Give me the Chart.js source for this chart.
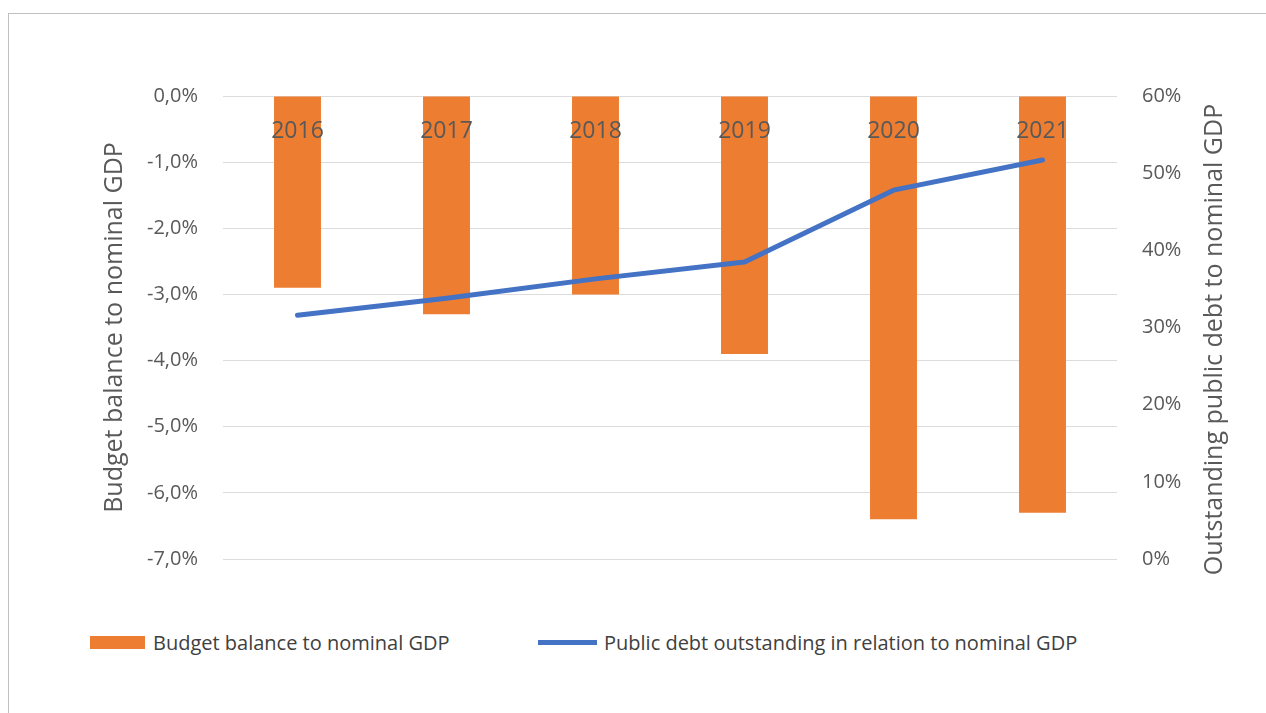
<!DOCTYPE html>
<html>
<head>
<meta charset="utf-8">
<title>Budget balance and public debt</title>
<script src="https://cdn.jsdelivr.net/npm/chart.js@4.4.1/dist/chart.umd.min.js"></script>
<style>
  html, body { margin: 0; padding: 0; background: #fff; overflow: hidden; }
  #frame { position: absolute; left: 8px; top: 13px; width: 1270px; height: 720px; border: 1px solid #c0c0c0; }
  #chart-wrap { position: absolute; left: 0; top: 0; width: 1258px; height: 590px; }
  .legend-item { position: absolute; top: 613px; height: 30px; display: flex; align-items: center;
    font: 20px "Open Sans", sans-serif; color: #404040; white-space: nowrap; }
  .legend-swatch { flex: none; }
</style>
</head>
<body>
<div id="frame">
  <div id="chart-wrap"><canvas id="balance-debt"></canvas></div>
  <div id="legend"></div>
</div>
<script>
// ==========================
// DATA
// ==========================
const years = ["2016", "2017", "2018", "2019", "2020", "2021"];
const budgetBalance = [-2.9, -3.3, -3.0, -3.9, -6.4, -6.3]; // % of nominal GDP
const publicDebt = [31.6, 33.8, 36.3, 38.5, 47.8, 51.7]; // % of nominal GDP
const balanceTickLabels = ["0,0%", "-1,0%", "-2,0%", "-3,0%", "-4,0%", "-5,0%", "-6,0%", "-7,0%"];
const debtTickLabels = ["0%", "10%", "20%", "30%", "40%", "50%", "60%"];

const ORANGE = "#ED7D31";
const BLUE = "#4472C4";
const GREY_TEXT = "#595959";
const FONT = '"Open Sans", sans-serif';

// ==========================
// PLUGINS
// ==========================

// Year labels sit just under the zero line, over the bars
const yearLabels = {
  id: "yearLabels",
  afterDatasetsDraw(chart) {
    const { ctx } = chart;
    const xScale = chart.scales.x;
    const y = chart.scales.y.getPixelForValue(0) + 35;
    ctx.save();
    ctx.font = "23px " + FONT;
    ctx.fillStyle = GREY_TEXT;
    ctx.textAlign = "center";
    ctx.textBaseline = "middle";
    years.forEach((year, i) => {
      ctx.fillText(year, xScale.getPixelForValue(i), y);
    });
    ctx.restore();
  },
};

// Both axis titles read bottom to top
const axisTitles = {
  id: "axisTitles",
  afterDraw(chart) {
    const { ctx, chartArea } = chart;
    const midY = (chartArea.top + chartArea.bottom) / 2;
    const drawRotated = (text, x, y) => {
      ctx.save();
      ctx.translate(x, y);
      ctx.rotate(-Math.PI / 2);
      ctx.fillText(text, 0, 0);
      ctx.restore();
    };
    ctx.save();
    ctx.font = "25px " + FONT;
    ctx.fillStyle = GREY_TEXT;
    ctx.textAlign = "center";
    ctx.textBaseline = "middle";
    drawRotated("Budget balance to nominal GDP", chartArea.left - 108, midY);
    drawRotated("Outstanding public debt to nominal GDP", chartArea.right + 98, midY + 12);
    ctx.restore();
  },
};

// ==========================
// CHART
// ==========================
const chart = new Chart(document.getElementById("balance-debt"), {
  data: {
    labels: years,
    datasets: [
      {
        type: "line",
        label: "Public debt outstanding in relation to nominal GDP",
        data: publicDebt,
        yAxisID: "y2",
        borderColor: BLUE,
        backgroundColor: BLUE,
        borderWidth: 5,
        borderCapStyle: "round",
        borderJoinStyle: "round",
        pointRadius: 0,
        tension: 0,
        order: 0,
      },
      {
        type: "bar",
        label: "Budget balance to nominal GDP",
        data: budgetBalance,
        yAxisID: "y",
        backgroundColor: ORANGE,
        barPercentage: 0.315,
        categoryPercentage: 1,
        order: 1,
      },
    ],
  },
  options: {
    responsive: true,
    maintainAspectRatio: false,
    animation: false,
    devicePixelRatio: 1,
    layout: { padding: { top: 82, bottom: 45, left: 0, right: 0 } },
    plugins: {
      legend: { display: false },
      tooltip: { enabled: false },
    },
    scales: {
      x: { display: false },
      y: {
        position: "left",
        min: -7,
        max: 0,
        ticks: {
          stepSize: 1,
          padding: 25,
          color: GREY_TEXT,
          font: { family: FONT, size: 20 },
          callback: (value) => balanceTickLabels[Math.round(-value)],
        },
        grid: { color: "#dcdcdc", lineWidth: 1, drawTicks: false },
        border: { display: false },
        afterFit: (scale) => { scale.width = 214; },
      },
      y2: {
        position: "right",
        min: 0,
        max: 60,
        ticks: {
          stepSize: 10,
          padding: 25,
          color: GREY_TEXT,
          font: { family: FONT, size: 20 },
          callback: (value) => debtTickLabels[Math.round(value / 10)],
        },
        grid: { display: false, drawTicks: false },
        border: { display: false },
        afterFit: (scale) => { scale.width = 150; },
      },
    },
  },
  plugins: [yearLabels, axisTitles],
});

// ==========================
// LEGEND (built from the datasets)
// ==========================
function buildLegend() {
  const legend = document.getElementById("legend");
  const bar = chart.data.datasets[1];
  const line = chart.data.datasets[0];
  const items = [
    { ds: bar, left: 81, w: 55, h: 13, gap: 8 },
    { ds: line, left: 529, w: 59, h: 5, gap: 7 },
  ];
  items.forEach((item) => {
    const el = document.createElement("div");
    el.className = "legend-item";
    el.style.left = item.left + "px";
    const swatch = document.createElement("span");
    swatch.className = "legend-swatch";
    swatch.style.width = item.w + "px";
    swatch.style.height = item.h + "px";
    swatch.style.background = item.ds.backgroundColor;
    swatch.style.marginRight = item.gap + "px";
    const text = document.createElement("span");
    text.textContent = item.ds.label;
    el.appendChild(swatch);
    el.appendChild(text);
    legend.appendChild(el);
  });
}

buildLegend();
</script>
</body>
</html>
